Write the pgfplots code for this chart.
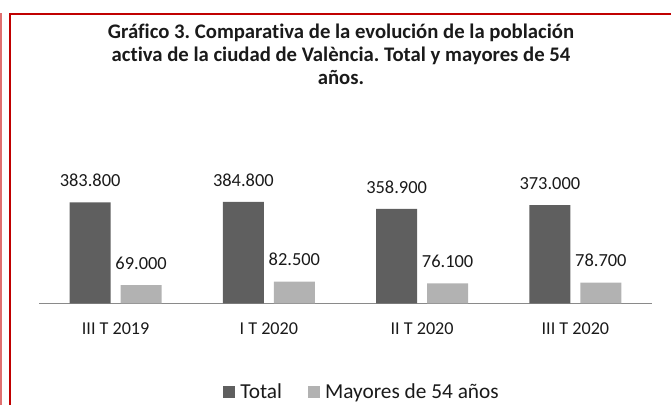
\documentclass[border=0pt]{standalone}
\usepackage{fontspec}
\setmainfont{Carlito}[Ligatures={NoCommon}]
\usepackage{pgfplots}
\pgfplotsset{compat=1.18}
\frenchspacing
\definecolor{framered}{HTML}{C00000}
\definecolor{framelight}{HTML}{E07070}
\definecolor{darkbar}{HTML}{5F5F5F}
\definecolor{lightbar}{HTML}{B2B2B2}
\definecolor{axisgray}{HTML}{8A8A8A}
\definecolor{txt}{HTML}{1A1A1A}

\begin{document}
\begin{tikzpicture}[x=1bp,y=1bp]
\useasboundingbox (0,0) rectangle (671,405);
% frame
\draw[framelight, line width=2bp] (1,0) -- (1,392);
\draw[framered, line width=2bp] (10,0) -- (10,391) -- (671,391);
% title
\node[font=\fontsize{20.8}{23}\selectfont\bfseries, align=center, text=txt] at (341,351)
  {Gráfico 3. Comparativa de la evolución de la población\\
   activa de la ciudad de València. Total y mayores de 54\\
   años.};
\begin{axis}[
  at={(39bp,101.7bp)}, anchor=south west,
  scale only axis, width=613bp, height=131.65bp,
  xmin=-0.5, xmax=3.5, ymin=0, ymax=500000,
  ybar=10bp, bar width=41bp,
  axis x line=bottom, axis y line=none,
  x axis line style={-, draw=axisgray, line width=1.5bp},
  xtick={0,1,2,3},
  xticklabels={III T 2019, I T 2020, II T 2020, III T 2020},
  major tick length=0pt,
  xticklabel style={font=\fontsize{18.2}{21}\selectfont, text=txt, yshift=-16bp},
  nodes near coords,
  nodes near coords style={font=\fontsize{18.5}{21}\selectfont, text=txt, yshift=12bp,
    /pgf/number format/.cd, fixed, precision=0, 1000 sep={.}, assume math mode=true},
  legend image code/.code={\fill[#1] (0bp,-6bp) rectangle (12bp,6bp); \path (15bp,0bp);},
  legend columns=2,
  legend style={at={(0.527,-0.674)}, anchor=center, draw=none, fill=none,
    font=\fontsize{21.4}{24}\selectfont, text=txt,
    /tikz/every even column/.append style={column sep=24bp}},
]
\addplot[fill=darkbar, draw=none] coordinates {(0,383800) (1,384800) (2,358900) (3,373000)};
\addlegendentry{Total}
\addplot[fill=lightbar, draw=none] coordinates {(0,69000) (1,82500) (2,76100) (3,78700)};
\addlegendentry{Mayores de 54 años}
\end{axis}
\end{tikzpicture}
\end{document}
